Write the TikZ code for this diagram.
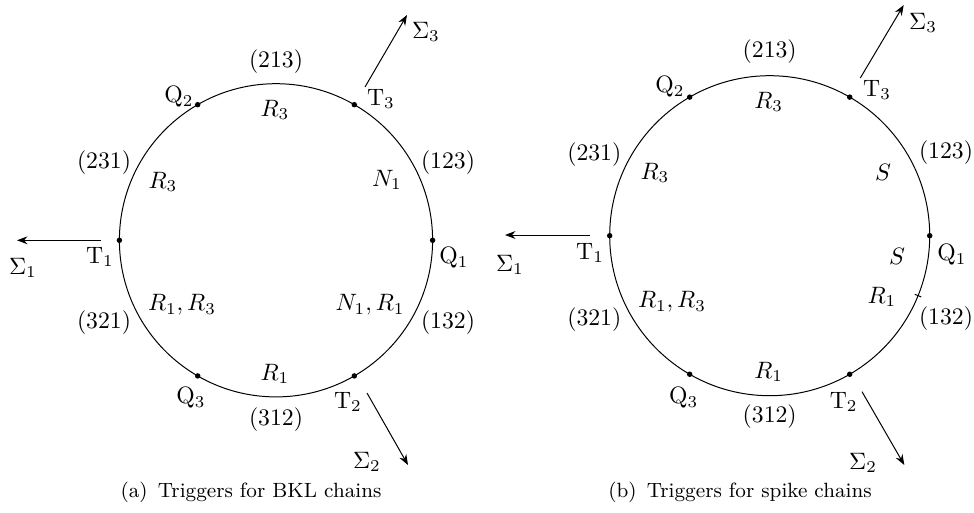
\documentclass[tikz,border=0pt]{standalone}
\usetikzlibrary{arrows.meta,calc}
\tikzset{
  wire/.style={line width=0.42pt},
  sarrow/.style={line width=0.42pt,-{Stealth[length=4.4pt,width=3.3pt]}},
  lbl/.style={inner sep=0pt,font=\fontsize{10.3}{12}\selectfont},
  capt/.style={inner sep=0pt,font=\fontsize{8.7}{10}\selectfont},
  dotpt/.style={fill=black,circle,inner sep=0pt,minimum size=2.3pt}
}
\begin{document}
\begin{tikzpicture}[x=0.4219pt,y=0.4219pt]
\useasboundingbox (0,0) rectangle (974,512);
% ===== Left circle (a) =====
\coordinate (cA) at (276,271.7);
\draw[wire] (cA) circle[radius=156.6];
\foreach \n/\a in {Q1/0,T3/60,Q2/120,T1/180,Q3/240,T2/300}{
  \node[dotpt] (A\n) at ($(cA)+(\a:156.6)$) {};
}
\node[lbl] (A213) at (276,450) {$(213)$};
\node[lbl] (AR3t) at (275,402) {$R_3$};
\node[lbl] (AQ2l) at (179,415) {$\mathrm{Q}_2$};
\node[lbl] (AT3l) at (381,413) {$\mathrm{T}_3$};
\node[lbl] (AS3) at (426,480) {$\Sigma_3$};
\coordinate (Aa3s) at (365,425); \coordinate (Aa3e) at (407,497);
\draw[sarrow] (Aa3s) -- (Aa3e);
\node[lbl] (A231) at (104,349) {$(231)$};
\node[lbl] (AR3l) at (163,330) {$R_3$};
\node[lbl] (A123) at (448,349) {$(123)$};
\node[lbl] (AN1) at (387,332) {$N_1$};
\node[lbl] (AT1l) at (100,255) {$\mathrm{T}_1$};
\coordinate (Aa1s) at (101,271.7); \coordinate (Aa1e) at (17,271.7);
\draw[sarrow] (Aa1s) -- (Aa1e);
\node[lbl] (AS1) at (23,244) {$\Sigma_1$};
\node[lbl] (AQ1l) at (454,254) {$\mathrm{Q}_1$};
\node[lbl] (AR1R3) at (182,207) {$R_1,R_3$};
\node[lbl] (A321) at (104,189) {$(321)$};
\node[lbl] (AN1R1) at (370,207) {$N_1,R_1$};
\node[lbl] (A132) at (448,189) {$(132)$};
\node[lbl] (AR1b) at (275,138) {$R_1$};
\node[lbl] (AQ3l) at (191,114) {$\mathrm{Q}_3$};
\node[lbl] (AT2l) at (348,110) {$\mathrm{T}_2$};
\node[lbl] (A312) at (276,92) {$(312)$};
\coordinate (Aa2s) at (367,119); \coordinate (Aa2e) at (408,47);
\draw[sarrow] (Aa2s) -- (Aa2e);
\node[lbl] (AS2) at (367,50) {$\Sigma_2$};
\node[capt] (Acap) at (251,20) {(a)\enspace Triggers for BKL chains};
% ===== Right circle (b) =====
\coordinate (cB) at (769.7,276.3);
\draw[wire] (cB) circle[radius=160];
\foreach \n/\a in {Q1/0,T3/60,Q2/120,T1/180,Q3/240,T2/300}{
  \node[dotpt] (B\n) at ($(cB)+(\a:160)$) {};
}
\coordinate (Btk1) at ($(cB)+(-22:156.5)$);
\coordinate (Btk2) at ($(cB)+(-22:163.5)$);
\draw[wire] (Btk1) -- (Btk2);
\node[lbl] (B213) at (769.7,460.3) {$(213)$};
\node[lbl] (BR3t) at (768.7,410.3) {$R_3$};
\node[lbl] (BQ2l) at (670,425) {$\mathrm{Q}_2$};
\node[lbl] (BT3l) at (877,422) {$\mathrm{T}_3$};
\node[lbl] (BS3) at (923,489) {$\Sigma_3$};
\coordinate (Ba3s) at (860.3,434); \coordinate (Ba3e) at (903.7,507);
\draw[sarrow] (Ba3s) -- (Ba3e);
\node[lbl] (B231) at (594.3,357) {$(231)$};
\node[lbl] (BR3l) at (655,339.3) {$R_3$};
\node[lbl] (B123) at (946,359) {$(123)$};
\node[lbl] (BSu) at (883,339.3) {$S$};
\node[lbl] (BT1l) at (590,259) {$\mathrm{T}_1$};
\coordinate (Ba1s) at (590.3,277); \coordinate (Ba1e) at (505,277);
\draw[sarrow] (Ba1s) -- (Ba1e);
\node[lbl] (BS1) at (510,247) {$\Sigma_1$};
\node[lbl] (BQ1l) at (952,257) {$\mathrm{Q}_1$};
\node[lbl] (BSl) at (897,255.3) {$S$};
\node[lbl] (BR1r) at (882,215.3) {$R_1$};
\node[lbl] (B132) at (946,193) {$(132)$};
\node[lbl] (BR1R3) at (672,210.3) {$R_1,R_3$};
\node[lbl] (B321) at (594.3,192) {$(321)$};
\node[lbl] (BR1b) at (768.7,140.3) {$R_1$};
\node[lbl] (BQ3l) at (683.7,114) {$\mathrm{Q}_3$};
\node[lbl] (BT2l) at (843.7,110.3) {$\mathrm{T}_2$};
\node[lbl] (B312) at (769.7,95.3) {$(312)$};
\coordinate (Ba2s) at (862,120.3); \coordinate (Ba2e) at (904.3,47);
\draw[sarrow] (Ba2s) -- (Ba2e);
\node[lbl] (BS2) at (863,49.3) {$\Sigma_2$};
\node[capt] (Bcap) at (740,20) {(b)\enspace Triggers for spike chains};
\end{tikzpicture}
\end{document}
